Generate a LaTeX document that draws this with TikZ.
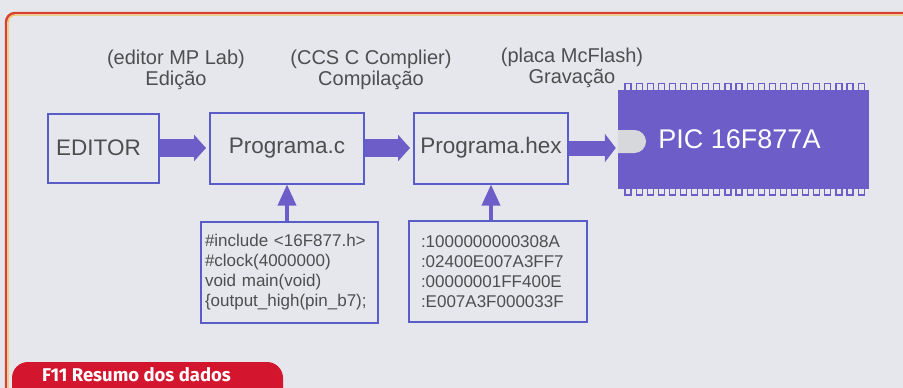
\documentclass[tikz,border=0pt]{standalone}
\usepackage{fontspec}
\setmainfont{Liberation Sans}
\newfontfamily\tabfont{Fira Sans}
\usetikzlibrary{arrows.meta,positioning}
\newcommand{\fsz}[2]{\fontsize{#1}{#2}\selectfont}
\definecolor{paper}{HTML}{E5E7EC}
\definecolor{framered}{HTML}{D8412B}
\definecolor{frameyellow}{HTML}{F0C450}
\definecolor{boxblue}{HTML}{5A5CC8}
\definecolor{chipviolet}{HTML}{6C5DC9}
\definecolor{notchgray}{HTML}{D7D8DB}
\definecolor{inkgray}{HTML}{4E4E50}
\definecolor{tabred}{HTML}{D3162E}

\begin{document}
\begin{tikzpicture}[x=1pt,y=-1pt,
  font=\fsz{20}{21},text=inkgray,
  stage/.style={draw=boxblue,line width=2pt,inner sep=0pt,
                minimum width=154pt,minimum height=71pt,font=\fsz{22.5}{24}},
  code/.style={draw=boxblue,line width=2pt,minimum height=101pt,
               align=left,inner ysep=0pt,font=\fsz{17}{20}},
  note/.style={align=center,inner sep=0pt},
  fat/.style={-{Triangle[length=12pt,width=26pt]},chipviolet,line width=18pt,
              shorten >=3pt},
  thin/.style={-{Triangle[length=21pt,width=18pt]},chipviolet,line width=3.5pt},
  pin/.style={draw=chipviolet,line width=1.2pt,fill=paper}
]
\clip (0,0) rectangle (903,388);
\fill[paper] (0,0) rectangle (903,388);
\draw[framered,line width=2.4pt,rounded corners=9pt] (6,13) rectangle (915,430);
\draw[frameyellow,line width=1pt,rounded corners=7pt] (8.2,15.2) rectangle (913,428);

% stages
\node[stage,minimum width=111pt,minimum height=69pt] (editor) at (103.5,148) {EDITOR\hspace*{10pt}};
\node[stage] (progc) at (287,148) {Programa.c};
\node[stage] (hex)   at (491,148) {Programa.hex};

% chip
\foreach \i in {0,...,21} {
  \draw[pin] (625+\i*11.1,83.5) rectangle ++(6,7);
  \draw[pin] (625+\i*11.1,188) rectangle ++(6,7);
}
\node[fill=chipviolet,minimum width=251pt,minimum height=99pt,inner sep=0pt,
      text=white,font=\fsz{27}{28}] (chip) at (743.5,139.5) {PIC 16F877A\hspace*{8pt}};
\fill[notchgray] (chip.west |- 0,130) -- (634.5,130)
  arc[start angle=90,end angle=-90,radius=11.5pt] -- (chip.west |- 0,153) -- cycle;

% labels
\node[note] (edlab)   at (176,70) {(editor MP Lab)\\Edição};
\node[note] (cclab)   at (371,70) {(CCS C Complier)\\Compilação};
\node[note] (gravlab) at (572,68) {(placa McFlash)\\Gravação};

% sources
\node[code,minimum width=177pt,text width=169pt,inner xsep=4pt] (csrc) at (289.5,272)
  {\#include <16F877.h>\\\#clock(4000000)\\void main(void)\\\{output\_high(pin\_b7);};
\node[code,minimum width=178pt,text width=154pt,inner xsep=12pt] (hexsrc) at (498,271.5)
  {:1000000000308A\\:02400E007A3FF7\\:00000001FF400E\\:E007A3F000033F};

% flow
\draw[fat] (editor) -- (progc);
\draw[fat] (progc) -- (hex);
\draw[fat,line width=15pt,-{Triangle[length=11pt,width=28pt]},shorten >=2pt]
  (hex.east) -- (hex.east -| chip.west);
\draw[thin] (csrc.north -| progc) -- (progc.south);
\draw[thin] (hexsrc.north -| hex) -- (hex.south);

% caption tab
\fill[tabred,rounded corners=16pt] (12,362) rectangle (283,430);
\node[anchor=base west,inner sep=0pt,text=white,font=\tabfont\bfseries\fsz{18.5}{19}]
  (tabtxt) at (42,381.5) {F11 Resumo dos dados};
\end{tikzpicture}
\end{document}
